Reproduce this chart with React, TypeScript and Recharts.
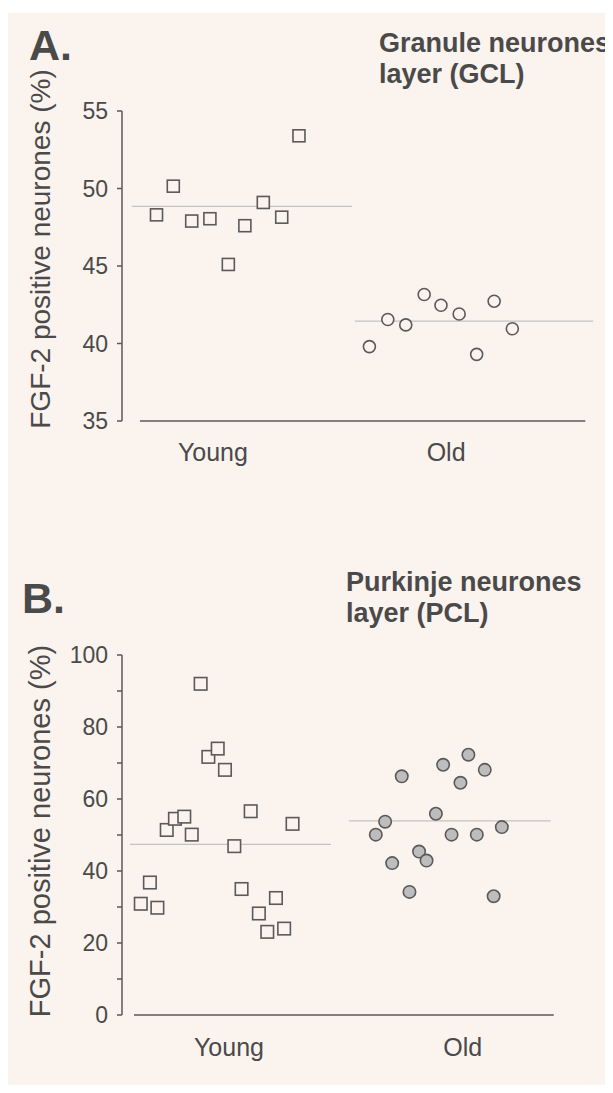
import React from "react";
import { ScatterChart, Scatter, XAxis, YAxis, ReferenceLine } from "recharts";

const BG = "#fbf3ee";
const INK = "#4a4a4a";
const AXIS = "#5a5a5a";
const MEAN = "#c3c3c3";
const FONT = "'Liberation Sans', Arial, Helvetica, sans-serif";

const groups = ["Young", "Old"];
const yLabelText = "FGF-2 positive neurones (%)";

// A. granule neurones layer (GCL)
const gclYoungX = [0.758, 0.83, 0.909, 0.987, 1.066, 1.137, 1.216, 1.295, 1.369];
const gclYoungY = [48.3, 50.15, 47.9, 48.05, 45.1, 47.6, 49.1, 48.15, 53.4];
const gclOldX = [1.671, 1.75, 1.827, 1.906, 1.978, 2.056, 2.131, 2.206, 2.284];
const gclOldY = [39.8, 41.55, 41.2, 43.16, 42.47, 41.9, 39.3, 42.73, 40.95];
const gclMeans = [48.85, 41.45];
const gclTicks = [35, 40, 45, 50, 55];

// B. purkinje neurones layer (PCL)
const pclYoungX = [0.623, 0.662, 0.694, 0.734, 0.769, 0.809, 0.841, 0.879, 0.912, 0.952, 0.983, 1.023, 1.054, 1.093, 1.128, 1.164, 1.201, 1.236, 1.272];
const pclYoungY = [30.9, 36.8, 29.8, 51.4, 54.5, 55.1, 50.1, 92.0, 71.7, 74.0, 68.1, 46.9, 35.0, 56.6, 28.2, 23.1, 32.5, 24.0, 53.1];
const pclOldX = [1.628, 1.668, 1.698, 1.739, 1.772, 1.813, 1.845, 1.885, 1.916, 1.952, 1.99, 2.024, 2.06, 2.094, 2.132, 2.167];
const pclOldY = [50.1, 53.7, 42.2, 66.3, 34.2, 45.4, 42.9, 55.9, 69.5, 50.1, 64.5, 72.3, 50.1, 68.1, 33.0, 52.2];
const pclMeans = [47.4, 53.9];
const pclTicks = [0, 10, 20, 30, 40, 50, 60, 70, 80, 90, 100];

const toPoints = (xs: number[], ys: number[]) => xs.map((x, i) => ({ x, y: ys[i] }));

const square = (s: number) => (p: any) => (
  <rect x={p.cx - s / 2} y={p.cy - s / 2} width={s} height={s} fill={BG} stroke={AXIS} strokeWidth={1.6} />
);
const circle = (r: number, fill: string) => (p: any) => (
  <circle cx={p.cx} cy={p.cy} r={r} fill={fill} stroke={AXIS} strokeWidth={1.6} />
);

const yLabel = (x: number, y: number, size: number) => () => (
  <text transform={`translate(${x},${y}) rotate(-90)`} textAnchor="middle" fontSize={size} fill={INK} fontFamily={FONT}>
    {yLabelText}
  </text>
);

const tickStyle = { fontSize: 23, fill: INK, fontFamily: FONT };
const catStyle = { fontSize: 25, fill: INK, fontFamily: FONT };

const titleStyle: React.CSSProperties = {
  position: "absolute",
  fontFamily: FONT,
  fontWeight: "bold",
  color: INK,
  whiteSpace: "nowrap",
};

export default function App() {
  return (
    <div style={{ position: "relative", width: 605, height: 1077, fontFamily: FONT }}>
      <div style={{ position: "absolute", left: 0, top: 5, width: 605, height: 1075, background: BG }} />

      <div style={{ ...titleStyle, left: 21, top: 16, fontSize: 43, lineHeight: "43px" }}>A.</div>
      <div style={{ ...titleStyle, left: 371, top: 20, fontSize: 27, lineHeight: "31px" }}>
        Granule neurones<br />layer (GCL)
      </div>

      <div style={{ position: "absolute", left: 0, top: 0 }}>
        <ScatterChart width={605} height={480} margin={{ top: 103, right: 13, bottom: 17, left: 34 }}>
          <XAxis
            type="number"
            dataKey="x"
            domain={[0.61, 2.66]}
            ticks={[1, 2]}
            tickFormatter={(v: number) => groups[v - 1]}
            axisLine={false}
            tickLine={false}
            tickSize={0}
            tickMargin={22}
            height={50}
            tick={catStyle}
          />
          <YAxis
            type="number"
            dataKey="y"
            domain={[35, 55]}
            ticks={gclTicks}
            width={80}
            axisLine={{ stroke: AXIS, strokeWidth: 1.5 }}
            tickLine={{ stroke: AXIS, strokeWidth: 1.5 }}
            tickSize={5}
            tickMargin={9}
            tick={tickStyle}
            label={{ content: yLabel(42, 241, 28) }}
          />
          <ReferenceLine segment={[{ x: 0.687, y: 35 }, { x: 2.597, y: 35 }]} stroke={AXIS} strokeWidth={1.5} />
          <ReferenceLine segment={[{ x: 0.652, y: gclMeans[0] }, { x: 1.597, y: gclMeans[0] }]} stroke={MEAN} strokeWidth={1.2} />
          <ReferenceLine segment={[{ x: 1.609, y: gclMeans[1] }, { x: 2.631, y: gclMeans[1] }]} stroke={MEAN} strokeWidth={1.2} />
          <Scatter data={toPoints(gclYoungX, gclYoungY)} shape={square(12)} isAnimationActive={false} />
          <Scatter data={toPoints(gclOldX, gclOldY)} shape={circle(6, BG)} isAnimationActive={false} />
        </ScatterChart>
      </div>

      <div style={{ ...titleStyle, left: 14, top: 569, fontSize: 43, lineHeight: "43px" }}>B.</div>
      <div style={{ ...titleStyle, left: 338, top: 559, fontSize: 27, lineHeight: "31px" }}>
        Purkinje neurones<br />layer (PCL)
      </div>

      <div style={{ position: "absolute", left: 0, top: 560 }}>
        <ScatterChart width={605} height={510} margin={{ top: 87, right: 52, bottom: 13, left: 34 }}>
          <XAxis
            type="number"
            dataKey="x"
            domain={[0.5427, 2.42]}
            ticks={[1, 2]}
            tickFormatter={(v: number) => groups[v - 1]}
            axisLine={false}
            tickLine={false}
            tickSize={0}
            tickMargin={23}
            height={50}
            tick={catStyle}
          />
          <YAxis
            type="number"
            dataKey="y"
            domain={[0, 100]}
            ticks={pclTicks}
            tickFormatter={(v: number) => (v % 20 === 0 ? String(v) : "")}
            width={80}
            axisLine={{ stroke: AXIS, strokeWidth: 1.5 }}
            tickLine={{ stroke: AXIS, strokeWidth: 1.5 }}
            tickSize={5}
            tickMargin={9}
            tick={tickStyle}
            label={{ content: yLabel(42, 263, 29) }}
          />
          <ReferenceLine segment={[{ x: 0.594, y: 0 }, { x: 2.389, y: 0 }]} stroke={AXIS} strokeWidth={1.5} />
          <ReferenceLine segment={[{ x: 0.577, y: pclMeans[0] }, { x: 1.436, y: pclMeans[0] }]} stroke={MEAN} strokeWidth={1.2} />
          <ReferenceLine segment={[{ x: 1.513, y: pclMeans[1] }, { x: 2.376, y: pclMeans[1] }]} stroke={MEAN} strokeWidth={1.2} />
          <Scatter data={toPoints(pclYoungX, pclYoungY)} shape={square(12.5)} isAnimationActive={false} />
          <Scatter data={toPoints(pclOldX, pclOldY)} shape={circle(6.2, "#bdbdbd")} isAnimationActive={false} />
        </ScatterChart>
      </div>
    </div>
  );
}
